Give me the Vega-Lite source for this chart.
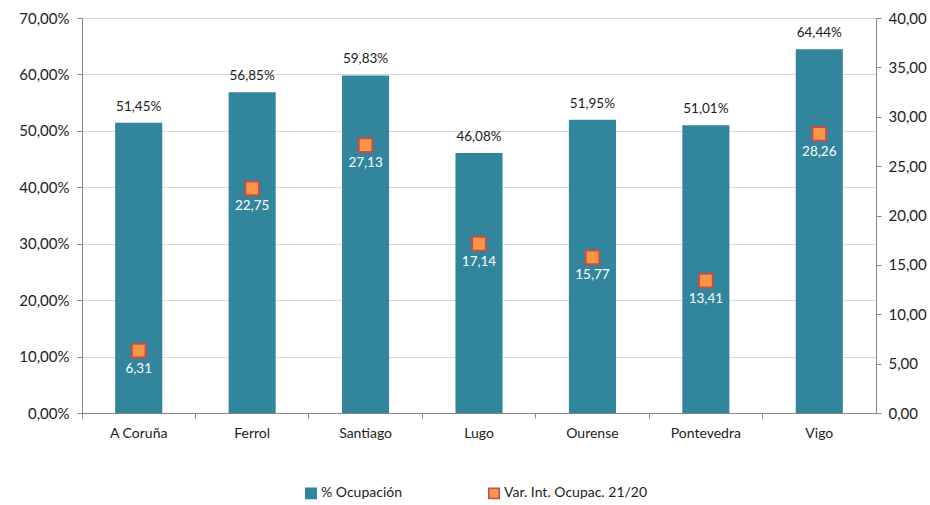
{
  "$schema": "https://vega.github.io/schema/vega-lite/v6.json",
  "width": 794,
  "height": 395,
  "autosize": {"type": "none"},
  "padding": {"left": 82, "top": 18, "right": 54, "bottom": 92},
  "background": "white",
  "config": {
    "locale": {"number": {"decimal": ",", "thousands": ".", "grouping": [3], "currency": ["", " €"]}},
    "font": "Lato",
    "view": {"stroke": null},
    "axis": {"labelFont": "Lato", "labelFontSize": 14, "labelColor": "#222222", "domainColor": "#868686", "tickColor": "#868686"}
  },
  "data": {
    "values": [
      {"ciudad": "A Coruña", "ocup": 0.5145, "var": 6.31},
      {"ciudad": "Ferrol", "ocup": 0.5685, "var": 22.75},
      {"ciudad": "Santiago", "ocup": 0.5983, "var": 27.13},
      {"ciudad": "Lugo", "ocup": 0.4608, "var": 17.14},
      {"ciudad": "Ourense", "ocup": 0.5195, "var": 15.77},
      {"ciudad": "Pontevedra", "ocup": 0.5101, "var": 13.41},
      {"ciudad": "Vigo", "ocup": 0.6444, "var": 28.26}
    ]
  },
  "encoding": {
    "x": {
      "field": "ciudad", "type": "nominal", "sort": null,
      "scale": {"paddingInner": 0, "paddingOuter": 0},
      "axis": {"title": null, "labelAngle": 0, "bandPosition": 0, "tickSize": 5, "labelPadding": 8, "domainColor": "#868686", "labelFontSize": 14}
    }
  },
  "layer": [
    {
      "encoding": {
        "y": {"field": "ocup", "type": "quantitative", "scale": {"domain": [0, 0.7]},
          "axis": {"title": null, "orient": "left", "format": ".2%", "values": [0, 0.1, 0.2, 0.3, 0.4, 0.5, 0.6, 0.7], "grid": true, "gridColor": "#D9D9D9", "tickSize": 5, "labelPadding": 8, "labelFontSize": 15}}
      },
      "layer": [
        {
          "mark": {"type": "bar", "width": {"band": 0.415}, "strokeWidth": 0},
          "encoding": {
            "fill": {"datum": "% Ocupación", "type": "nominal",
              "scale": {"domain": ["% Ocupación", "Var. Int. Ocupac. 21/20"], "range": ["#31859C", "#F79646"]},
              "legend": {"title": null, "orient": "none", "direction": "horizontal", "legendX": 222, "legendY": 468, "symbolType": "square", "symbolSize": 110, "labelFontSize": 14, "labelColor": "#222222", "columnPadding": 82, "symbolStrokeWidth": 1.5, "labelOffset": 3}},
            "stroke": {"datum": "% Ocupación", "type": "nominal",
              "scale": {"domain": ["% Ocupación", "Var. Int. Ocupac. 21/20"], "range": ["#31859C", "#C0504D"]},
              "legend": {"title": null, "orient": "none", "direction": "horizontal", "legendX": 222, "legendY": 468, "symbolType": "square", "symbolSize": 110, "labelFontSize": 14, "labelColor": "#222222", "columnPadding": 82, "symbolStrokeWidth": 1.5, "labelOffset": 3}}
          }
        },
        {
          "mark": {"type": "text", "baseline": "bottom", "dy": -9, "fontSize": 13.5, "color": "#1a1a1a"},
          "encoding": {
            "text": {"field": "ocup", "type": "quantitative", "format": ".2%"}
          }
        }
      ]
    },
    {
      "encoding": {
        "y": {"field": "var", "type": "quantitative", "scale": {"domain": [0, 40]},
          "axis": {"orient": "right", "title": null, "format": ".2f", "values": [0, 5, 10, 15, 20, 25, 30, 35, 40], "grid": false, "tickSize": 5, "labelPadding": 7, "labelFontSize": 15}}
      },
      "layer": [
        {
          "mark": {"type": "point", "shape": "square", "size": 190, "strokeWidth": 2, "opacity": 1, "fillOpacity": 1},
          "encoding": {
            "fill": {"datum": "Var. Int. Ocupac. 21/20", "type": "nominal"},
            "stroke": {"datum": "Var. Int. Ocupac. 21/20", "type": "nominal"}
          }
        },
        {
          "mark": {"type": "text", "baseline": "top", "dy": 11, "fontSize": 13.5, "color": "white"},
          "encoding": {
            "text": {"field": "var", "type": "quantitative", "format": ".2f"}
          }
        }
      ]
    }
  ],
  "resolve": {"scale": {"y": "independent"}}
}
